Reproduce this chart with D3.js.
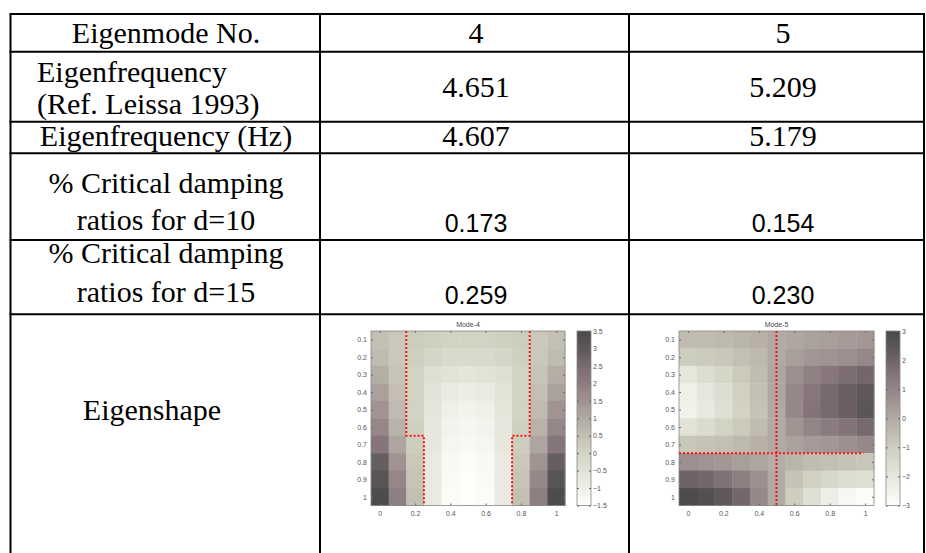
<!DOCTYPE html>
<html>
<head>
<meta charset="utf-8">
<script src="https://cdn.jsdelivr.net/npm/d3@7"></script>
<style>
  body { margin: 0; background: #fff; }
  svg { display: block; }
</style>
</head>
<body>
<div id="chart"></div>
<script>
// 1: DATA
const rowLabels = [
  ["Eigenmode No."],
  ["Eigenfrequency", "(Ref. Leissa 1993)"],
  ["Eigenfrequency (Hz)"],
  ["% Critical damping", "ratios for d=10"],
  ["% Critical damping", "ratios for d=15"],
  ["Eigenshape"]
];
const modeNumbers = ["4", "5"];
const refFrequency = ["4.651", "5.209"];
const eigenFrequency = ["4.607", "5.179"];
const dampingD10 = ["0.173", "0.154"];
const dampingD15 = ["0.259", "0.230"];

const gridX = [0, 0.1, 0.2, 0.3, 0.4, 0.5, 0.6, 0.7, 0.8, 0.9, 1];
const gridY = [0.1, 0.2, 0.3, 0.4, 0.5, 0.6, 0.7, 0.8, 0.9, 1];
const xTickVals = [0, 0.2, 0.4, 0.6, 0.8, 1];

// mode shape values, one row per y (0.1 .. 1), one column per x (0 .. 1)
const mode4 = [
  [0.5, 0.3, 0.2, 0.1, 0.0, 0.0, 0.0, 0.1, 0.2, 0.3, 0.5],
  [0.6, 0.3, 0.1, -0.1, -0.2, -0.2, -0.2, -0.1, 0.1, 0.3, 0.6],
  [0.9, 0.4, 0.0, -0.4, -0.5, -0.6, -0.5, -0.4, 0.0, 0.4, 0.9],
  [1.2, 0.5, 0.0, -0.5, -0.8, -0.9, -0.8, -0.5, 0.0, 0.5, 1.2],
  [1.5, 0.6, 0.0, -0.6, -1.0, -1.1, -1.0, -0.6, 0.0, 0.6, 1.5],
  [1.8, 0.8, 0.1, -0.7, -1.1, -1.2, -1.1, -0.7, 0.1, 0.8, 1.8],
  [2.2, 1.1, 0.2, -0.7, -1.2, -1.3, -1.2, -0.7, 0.2, 1.1, 2.2],
  [2.8, 1.5, 0.3, -0.8, -1.3, -1.4, -1.3, -0.8, 0.3, 1.5, 2.8],
  [3.1, 1.8, 0.4, -0.8, -1.35, -1.45, -1.35, -0.8, 0.4, 1.8, 3.1],
  [3.4, 2.0, 0.5, -0.8, -1.4, -1.5, -1.4, -0.8, 0.5, 2.0, 3.4]
];
const mode5 = [
  [-0.5, -0.5, -0.4, -0.3, -0.2, 0.0, 0.1, 0.2, 0.3, 0.4, 0.5],
  [-1.0, -0.9, -0.8, -0.6, -0.4, 0.0, 0.3, 0.5, 0.6, 0.7, 0.9],
  [-2.0, -1.6, -1.3, -0.9, -0.5, 0.1, 0.7, 1.1, 1.4, 1.7, 1.9],
  [-2.4, -2.0, -1.6, -1.1, -0.6, 0.1, 0.9, 1.4, 1.8, 2.1, 2.4],
  [-2.5, -2.1, -1.7, -1.2, -0.7, 0.0, 0.9, 1.5, 1.8, 2.1, 2.5],
  [-1.8, -1.5, -1.2, -0.9, -0.5, 0.0, 0.6, 1.0, 1.3, 1.5, 1.8],
  [-0.8, -0.7, -0.6, -0.4, -0.2, 0.0, 0.2, 0.4, 0.5, 0.7, 0.9],
  [0.7, 0.6, 0.5, 0.3, 0.1, -0.1, -0.3, -0.5, -0.6, -0.7, -0.8],
  [2.0, 1.9, 1.6, 1.2, 0.7, 0.0, -0.7, -1.1, -1.4, -1.6, -1.7],
  [2.9, 2.7, 2.4, 1.9, 0.9, 0.0, -1.0, -1.7, -2.3, -2.7, -2.9]
];
const mode4Range = [-1.5, 3.5];
const mode5Range = [-3, 3];
const mode4Ticks = [-1.5, -1, -0.5, 0, 0.5, 1, 1.5, 2, 2.5, 3, 3.5];
const mode5Ticks = [-3, -2, -1, 0, 1, 2, 3];

// nodal lines (x, y in plot units)
const mode4Nodal = [
  [[0.15, 0.05], [0.15, 0.65], [0.25, 0.65], [0.25, 1.05]],
  [[0.85, 0.05], [0.85, 0.65], [0.75, 0.65], [0.75, 1.05]]
];
const mode5Nodal = [
  [[0.5, 0.05], [0.5, 1.05]],
  [[-0.05, 0.75], [0.99, 0.75]]
];

// 2: LAYOUT
const W = 926, H = 553;
const colX = [10.5, 320, 629, 924];
const rowY = [14, 51.7, 121.7, 153.3, 240, 314.3, 553];
const serif = "'Liberation Serif', 'Times New Roman', serif";
const sans = "'Liberation Sans', Arial, sans-serif";

const svg = d3.select("#chart").append("svg")
  .attr("width", W).attr("height", H);

// table grid
const grid = svg.append("g").attr("stroke", "#000").attr("stroke-width", 2);
rowY.slice(0, 6).forEach(y => {
  grid.append("line").attr("x1", colX[0] - 1).attr("x2", colX[3] + 1)
    .attr("y1", y).attr("y2", y);
});
colX.forEach(x => {
  grid.append("line").attr("x1", x).attr("x2", x)
    .attr("y1", rowY[0]).attr("y2", H);
});

// first column text
const labelPos = [
  { anchor: "middle", x: 166, ys: [43] },
  { anchor: "start", x: 37, ys: [82, 114] },
  { anchor: "middle", x: 166, ys: [146] },
  { anchor: "middle", x: 166, ys: [193, 230] },
  { anchor: "middle", x: 166, ys: [263, 302] },
  { anchor: "middle", x: 152, ys: [420] }
];
rowLabels.forEach((lines, i) => {
  lines.forEach((t, j) => {
    svg.append("text")
      .attr("x", labelPos[i].x).attr("y", labelPos[i].ys[j])
      .attr("text-anchor", labelPos[i].anchor)
      .style("font-family", serif).style("font-size", "30px")
      .text(t);
  });
});

const colCenters = [476, 783];
function cellText(vals, y, family, size) {
  vals.forEach((v, i) => {
    svg.append("text")
      .attr("x", colCenters[i]).attr("y", y)
      .attr("text-anchor", "middle")
      .style("font-family", family).style("font-size", size)
      .text(v);
  });
}
cellText(modeNumbers, 43, serif, "30px");
cellText(refFrequency, 97, serif, "30px");
cellText(eigenFrequency, 146, serif, "30px");
cellText(dampingD10, 232, sans, "25px");
cellText(dampingD15, 304, sans, "25px");

// 3: HEATMAPS
const cmap = d3.scaleLinear()
  .domain([0, 0.17, 0.33, 0.5, 0.62, 0.75, 0.88, 1])
  .range(["#fefefc", "#e6e6dc", "#cfcfbf", "#b1aaa3", "#9c8e8e", "#84747a", "#625a5e", "#48484a"])
  .interpolate(d3.interpolateRgb)
  .clamp(true);

function drawMode(title, values, range, cbTicks, nodal, box, cbX) {
  const g = svg.append("g");
  const x = d3.scaleLinear().domain([-0.05, 1.05]).range([box.x0, box.x1]);
  const y = d3.scaleLinear().domain([0.05, 1.05]).range([box.y0, box.y1]);
  const t = d3.scaleLinear().domain(range).range([0, 1]);

  const cells = [];
  values.forEach((row, r) => row.forEach((v, c) => cells.push({ gx: gridX[c], gy: gridY[r], v })));
  g.selectAll("rect.cell").data(cells).join("rect")
    .attr("class", "cell")
    .attr("x", d => x(d.gx - 0.05)).attr("y", d => y(d.gy - 0.05))
    .attr("width", x(0.1) - x(0) + 0.4).attr("height", y(0.1) - y(0) + 0.4)
    .attr("fill", d => cmap(t(d.v)));

  // axes, MATLAB style inward ticks
  const axStyle = sel => {
    sel.select(".domain").remove();
    sel.selectAll(".tick line").attr("stroke", "#666");
    sel.selectAll("text").style("font-family", sans).style("font-size", "7px").attr("fill", "#555");
  };
  g.append("g").attr("transform", `translate(0,${box.y1})`)
    .call(d3.axisBottom(x).tickValues(xTickVals).tickSize(-2).tickPadding(6).tickFormat(d3.format("~g")))
    .call(axStyle);
  g.append("g").attr("transform", `translate(0,${box.y0})`)
    .call(d3.axisTop(x).tickValues(xTickVals).tickSize(-2).tickFormat(""))
    .call(axStyle);
  g.append("g").attr("transform", `translate(${box.x0},0)`)
    .call(d3.axisLeft(y).tickValues(gridY).tickSize(-2).tickPadding(4).tickFormat(d3.format("~g")))
    .call(axStyle);
  g.append("g").attr("transform", `translate(${box.x1},0)`)
    .call(d3.axisRight(y).tickValues(gridY).tickSize(-2).tickFormat(""))
    .call(axStyle);
  g.append("rect")
    .attr("x", box.x0).attr("y", box.y0)
    .attr("width", box.x1 - box.x0).attr("height", box.y1 - box.y0)
    .attr("fill", "none").attr("stroke", "#888").attr("stroke-width", 0.8);

  // nodal lines
  const line = d3.line().x(d => x(d[0])).y(d => y(d[1]));
  nodal.forEach(p => {
    g.append("path").attr("d", line(p))
      .attr("fill", "none").attr("stroke", "#ff1010")
      .attr("stroke-width", 2).attr("stroke-dasharray", "2,2");
  });

  g.append("text")
    .attr("x", (box.x0 + box.x1) / 2).attr("y", box.y0 - 4)
    .attr("text-anchor", "middle")
    .style("font-family", sans).style("font-size", "7px").attr("fill", "#444")
    .text(title);

  // colorbar
  const cb = d3.scaleLinear().domain(range).range([box.y1, box.y0]);
  const defs = svg.append("defs");
  const gid = "grad" + title.replace(/\W/g, "");
  const grad = defs.append("linearGradient").attr("id", gid)
    .attr("x1", 0).attr("x2", 0).attr("y1", 1).attr("y2", 0);
  cmap.domain().forEach(s => {
    grad.append("stop").attr("offset", s).attr("stop-color", cmap(s));
  });
  g.append("rect")
    .attr("x", cbX).attr("y", box.y0).attr("width", 14).attr("height", box.y1 - box.y0)
    .attr("fill", `url(#${gid})`).attr("stroke", "#888").attr("stroke-width", 0.8);
  g.append("g").attr("transform", `translate(${cbX + 14},0)`)
    .call(d3.axisRight(cb).tickValues(cbTicks).tickSize(-2).tickPadding(2).tickFormat(d3.format("~g")))
    .call(axStyle);
  g.append("g").attr("transform", `translate(${cbX},0)`)
    .call(d3.axisLeft(cb).tickValues(cbTicks).tickSize(-2).tickFormat(""))
    .call(axStyle);
}

drawMode("Mode-4", mode4, mode4Range, mode4Ticks, mode4Nodal,
  { x0: 371, x1: 565, y0: 331, y1: 505.5 }, 577);
drawMode("Mode-5", mode5, mode5Range, mode5Ticks, mode5Nodal,
  { x0: 679, x1: 874, y0: 331, y1: 505.5 }, 886);
</script>
</body>
</html>
